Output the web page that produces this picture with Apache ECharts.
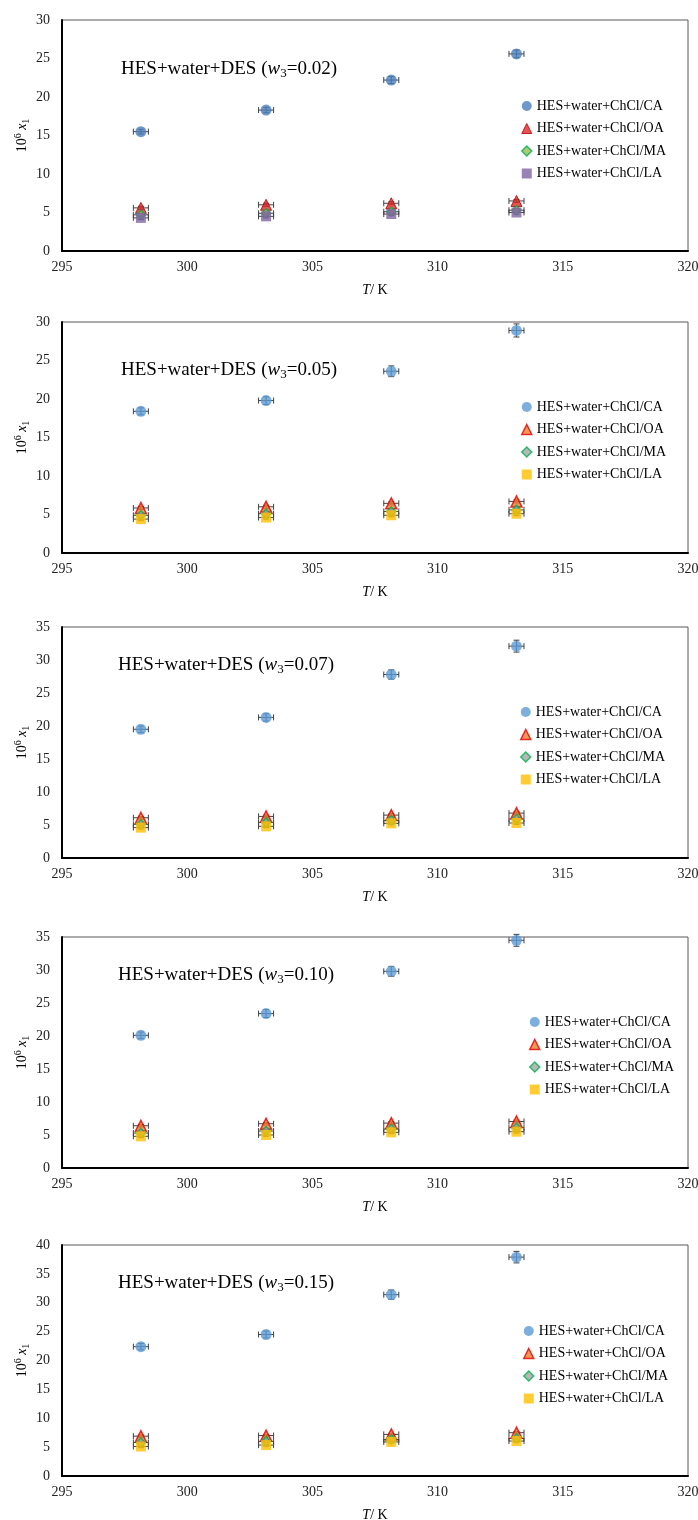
<!DOCTYPE html>
<html>
<head>
<meta charset="utf-8">
<script src="https://cdn.jsdelivr.net/npm/echarts@6/dist/echarts.min.js"></script>
<style>
  html, body { margin: 0; padding: 0; background: #fff; }
  #main { width: 698px; height: 1520px; }
</style>
</head>
<body>
<div id="main"></div>
<script>
// temperatures (K), same for every panel
var T = [298.15, 303.15, 308.15, 313.15];
var w3 = ['0.02', '0.05', '0.07', '0.10', '0.15'];
var yMax = [30, 30, 35, 35, 40];
var names = ['HES+water+ChCl/CA', 'HES+water+ChCl/OA', 'HES+water+ChCl/MA', 'HES+water+ChCl/LA'];

// 10^6 x1, one row per panel
var caY = [[15.5, 18.3, 22.2, 25.6], [18.4, 19.8, 23.6, 28.9], [19.5, 21.3, 27.8, 32.1], [20.1, 23.4, 29.8, 34.5], [22.4, 24.5, 31.4, 37.9]];
var oaY = [[5.6, 6.0, 6.2, 6.5], [5.85, 6.0, 6.45, 6.7], [6.1, 6.3, 6.5, 6.8], [6.4, 6.7, 6.8, 7.05], [6.9, 7.0, 7.2, 7.5]];
var maY = [[4.7, 4.9, 5.1, 5.3], [4.9, 5.1, 5.4, 5.6], [5.1, 5.4, 5.7, 5.9], [5.3, 5.6, 5.9, 6.1], [5.8, 6.0, 6.3, 6.5]];
var laY = [[4.3, 4.5, 4.8, 5.0], [4.4, 4.6, 4.9, 5.1], [4.6, 4.8, 5.25, 5.3], [4.8, 5.0, 5.4, 5.5], [5.1, 5.35, 5.9, 6.05]];

// error bars
var tErr = [0.3, 0.3, 0.3, 0.3];
var caErr = [[0.3, 0.35, 0.45, 0.5], [0.45, 0.5, 0.7, 0.85], [0.5, 0.55, 0.7, 0.9], [0.5, 0.6, 0.75, 0.9], [0.55, 0.6, 0.8, 1.0]];
var oaErr = [0.2, 0.2, 0.2, 0.2];
var maErr = [0.2, 0.2, 0.2, 0.2];
var laErr = [0.2, 0.2, 0.2, 0.2];

var FONT = 'Liberation Serif';
var gridTop = [20, 322, 627, 937, 1245];
var legendPos = [[521, 99], [521, 400], [520, 705], [529, 1015], [523, 1324]];
var titlePos = [[121, 58], [121, 359], [118, 654], [118, 964], [118, 1272]];

// marker look: panel 1 uses the older palette
var styles = [
    [
        { symbol: 'circle', size: 11, itemStyle: { color: '#4a7ebb' } },
        { symbol: 'triangle', size: 11, itemStyle: { color: '#e02828', borderColor: '#b00000', borderWidth: 1 } },
        { symbol: 'diamond', size: 9, itemStyle: { color: '#9bbb59', borderColor: '#00b050', borderWidth: 1.5 } },
        { symbol: 'rect', size: 10, itemStyle: { color: '#8064a2' } }
    ],
    [
        { symbol: 'circle', size: 11, itemStyle: { color: '#5b9bd5' } },
        { symbol: 'triangle', size: 11, itemStyle: { color: '#ed7d31', borderColor: '#e00000', borderWidth: 1.5 } },
        { symbol: 'diamond', size: 9, itemStyle: { color: '#a5a5a5', borderColor: '#00b050', borderWidth: 1.5 } },
        { symbol: 'rect', size: 10, itemStyle: { color: '#ffc000' } }
    ]
];

var myChart = echarts.init(document.getElementById('main'));

function errRender(params, api) {
    var x = api.value(0), y = api.value(1), ex = api.value(2), ey = api.value(3);
    var c = api.coord([x, y]);
    var l = api.coord([x - ex, y])[0];
    var r = api.coord([x + ex, y])[0];
    var t = api.coord([x, y + ey])[1];
    var b = api.coord([x, y - ey])[1];
    var cap = 3;
    var st = { stroke: '#404040', lineWidth: 1 };
    var seg = function(x1, y1, x2, y2) {
        return { type: 'line', shape: { x1: x1, y1: y1, x2: x2, y2: y2 }, style: st };
    };
    return {
        type: 'group',
        children: [
            seg(l, c[1], r, c[1]),
            seg(l, c[1] - cap, l, c[1] + cap),
            seg(r, c[1] - cap, r, c[1] + cap),
            seg(c[0], t, c[0], b),
            seg(c[0] - cap, t, c[0] + cap, t),
            seg(c[0] - cap, b, c[0] + cap, b)
        ]
    };
}

var grid = [], xAxis = [], yAxis = [], series = [], legend = [], title = [];

for (var i = 0; i < 5; i++) {
    grid.push({
        left: 62, right: 10, top: gridTop[i], height: 231,
        outerBoundsMode: 'none', containLabel: false,
        show: true, borderColor: '#595959', borderWidth: 1, backgroundColor: '#fff'
    });
    xAxis.push({
        gridIndex: i, type: 'value', min: 295, max: 320, interval: 5,
        axisLine: { show: true, onZero: false, lineStyle: { color: '#000', width: 2 } },
        axisTick: { show: false }, splitLine: { show: false },
        axisLabel: { fontFamily: FONT, fontSize: 14, color: '#222', margin: 9 },
        name: '{i|T}{n|/ K}', nameLocation: 'middle', nameGap: 32, nameMoveOverlap: false,
        nameTextStyle: {
            rich: {
                i: { fontFamily: FONT, fontSize: 14, fontStyle: 'italic', color: '#000' },
                n: { fontFamily: FONT, fontSize: 14, color: '#000' }
            }
        }
    });
    yAxis.push({
        gridIndex: i, type: 'value', min: 0, max: yMax[i], interval: 5,
        axisLine: { show: true, onZero: false, lineStyle: { color: '#000', width: 2 } },
        axisTick: { show: false }, splitLine: { show: false },
        axisLabel: { fontFamily: FONT, fontSize: 14, color: '#222', margin: 12 },
        name: '{n|10}{sup|6}{x| x}{sub|1}', nameLocation: 'middle', nameRotate: 90, nameGap: 31,
        nameMoveOverlap: false,
        nameTextStyle: {
            rich: {
                n: { fontFamily: FONT, fontSize: 14, color: '#000', lineHeight: 18 },
                sup: { fontFamily: FONT, fontSize: 10, color: '#000', lineHeight: 18, verticalAlign: 'top' },
                x: { fontFamily: FONT, fontSize: 14, fontStyle: 'italic', color: '#000', lineHeight: 18 },
                sub: { fontFamily: FONT, fontSize: 10, color: '#000', lineHeight: 18, verticalAlign: 'bottom' }
            }
        }
    });
    title.push({
        left: titlePos[i][0], top: titlePos[i][1], padding: 0,
        text: '{a|HES+water+DES (}{w|w}{s|3}{a|=' + w3[i] + ')}',
        textStyle: {
            fontWeight: 'normal',
            rich: {
                a: { fontFamily: FONT, fontSize: 19, fontWeight: 'normal', color: '#000', lineHeight: 22 },
                w: { fontFamily: FONT, fontSize: 19, fontWeight: 'normal', fontStyle: 'italic', color: '#000', lineHeight: 22 },
                s: { fontFamily: FONT, fontSize: 13, fontWeight: 'normal', color: '#000', lineHeight: 22, verticalAlign: 'bottom' }
            }
        }
    });

    var st = styles[i == 0 ? 0 : 1];
    var ys = [caY[i], oaY[i], maY[i], laY[i]];
    var es = [caErr[i], oaErr, maErr, laErr];

    // error bars first so markers sit on top
    var errData = [];
    for (var k = 0; k < 4; k++) {
        for (var j = 0; j < T.length; j++) {
            errData.push([T[j], ys[k][j], tErr[j], es[k][j]]);
        }
    }
    series.push({
        type: 'custom', xAxisIndex: i, yAxisIndex: i, z: 1,
        renderItem: errRender, encode: { x: 0, y: 1 },
        data: errData, silent: true
    });

    for (var k = 0; k < 4; k++) {
        series.push({
            name: names[k], type: 'scatter', xAxisIndex: i, yAxisIndex: i, z: 2 + k,
            symbol: st[k].symbol, symbolSize: st[k].size, itemStyle: st[k].itemStyle,
            data: T.map(function(t, j) { return [t, ys[k][j]]; })
        });
    }

    legend.push({
        orient: 'vertical', left: legendPos[i][0], top: legendPos[i][1], padding: 0,
        itemGap: 8.5, itemWidth: 10, itemHeight: 10, selectedMode: false,
        textStyle: { fontFamily: FONT, fontSize: 14, color: '#000', lineHeight: 14 },
        data: names.map(function(n, k) {
            return { name: n, icon: st[k].symbol, itemStyle: st[k].itemStyle };
        })
    });
}

myChart.setOption({
    animation: false,
    backgroundColor: '#fff',
    title: title,
    grid: grid,
    xAxis: xAxis,
    yAxis: yAxis,
    legend: legend,
    series: series
});
</script>
</body>
</html>
